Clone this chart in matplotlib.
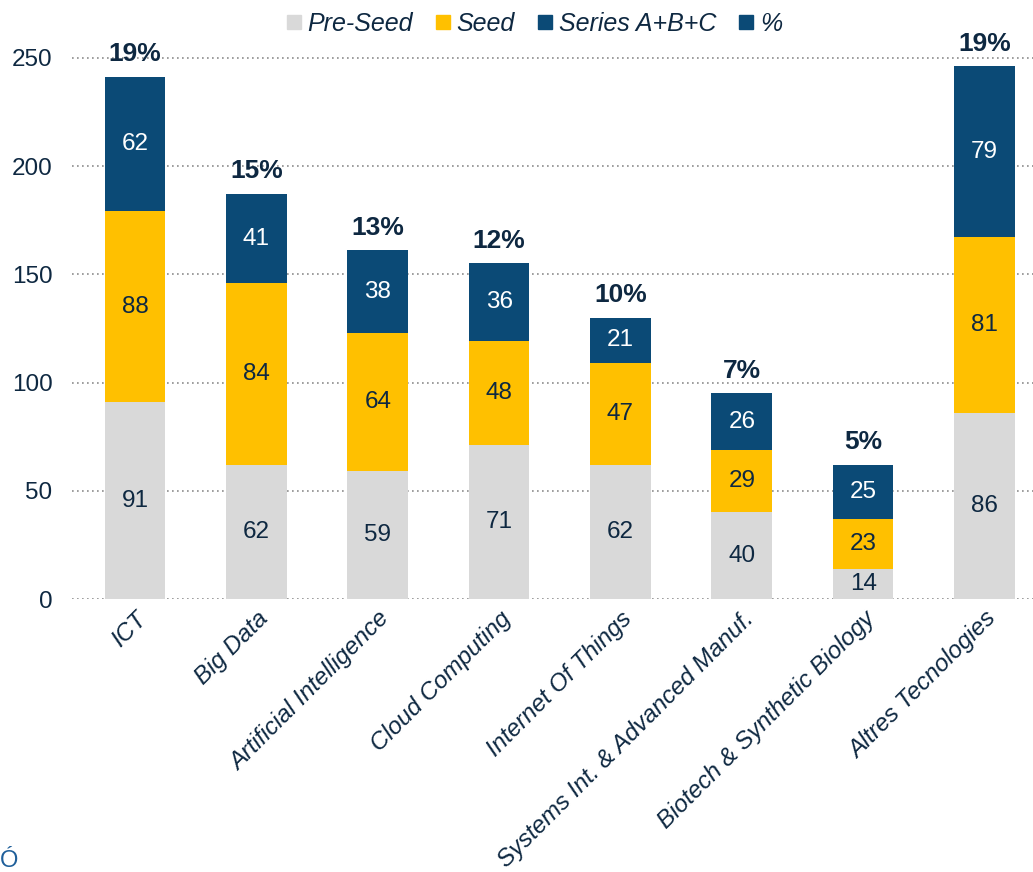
import numpy as np
import matplotlib.pyplot as plt
from matplotlib.lines import Line2D

plt.rcParams['font.family'] = ['Liberation Sans', 'DejaVu Sans']

categories = ['ICT', 'Big Data', 'Artificial Intelligence', 'Cloud Computing',
              'Internet Of Things', 'Systems Int. & Advanced Manuf.',
              'Biotech & Synthetic Biology', 'Altres Tecnologies']
pre_seed = [91, 62, 59, 71, 62, 40, 14, 86]
seed = [88, 84, 64, 48, 47, 29, 23, 81]
series_abc = [62, 41, 38, 36, 21, 26, 25, 79]
pct = ['19%', '15%', '13%', '12%', '10%', '7%', '5%', '19%']

c_grey = '#D9D9D9'
c_yellow = '#FFC000'
c_blue = '#0B4A76'
c_text = '#0E2841'

fig = plt.figure(figsize=(10.33, 8.72), dpi=100)
ax = fig.add_axes([0.0697, 0.313, 0.9303, 0.658])

x = np.arange(len(categories))
w = 0.5
b1 = ax.bar(x, pre_seed, w, color=c_grey, zorder=2)
b2 = ax.bar(x, seed, w, bottom=pre_seed, color=c_yellow, zorder=2)
bot3 = np.array(pre_seed) + np.array(seed)
b3 = ax.bar(x, series_abc, w, bottom=bot3, color=c_blue, zorder=2)

ax.bar_label(b1, label_type='center', color=c_text, fontsize=17.5)
ax.bar_label(b2, label_type='center', color=c_text, fontsize=17.5)
ax.bar_label(b3, label_type='center', color='white', fontsize=17.5)

totals = bot3 + np.array(series_abc)
for xi, t, p in zip(x, totals, pct):
    ax.text(xi, t + 5, p, ha='center', va='bottom', fontsize=19,
            fontweight='bold', color=c_text)

ax.set_xlim(-0.52, 7.4)
ax.set_ylim(0, 265)
ax.set_yticks([0, 50, 100, 150, 200, 250])
ax.yaxis.grid(True, linestyle=(0, (1, 2)), color='#8C8C8C', linewidth=1.2, zorder=0)
ax.set_axisbelow(True)
for s in ax.spines.values():
    s.set_visible(False)
ax.tick_params(axis='both', length=0, labelsize=17.5, labelcolor=c_text)
ax.tick_params(axis='y', pad=14)
ax.set_xticks(x)
ax.set_xticklabels(categories, rotation=45, ha='right', va='top',
                   rotation_mode='anchor', fontstyle='italic')
ax.tick_params(axis='x', pad=6)

handles = [Line2D([], [], marker='s', linestyle='', markersize=10, color=c)
           for c in [c_grey, c_yellow, c_blue, c_blue]]
leg = fig.legend(handles, ['Pre-Seed', 'Seed', 'Series A+B+C', '%'],
                 loc='center', bbox_to_anchor=(0.517, 0.973), ncol=4,
                 frameon=False, fontsize=18, handletextpad=0.25,
                 columnspacing=0.9, handlelength=0.6)
for t in leg.get_texts():
    t.set_fontstyle('italic')
    t.set_color(c_text)

fig.text(0.0, 0.006, 'Ó', color='#1F5F9A', fontsize=17)

fig.savefig('out.png', dpi=100)
